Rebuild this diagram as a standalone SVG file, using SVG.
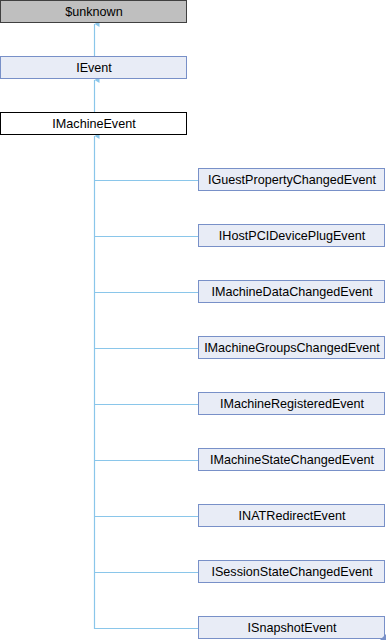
<svg xmlns="http://www.w3.org/2000/svg" width="386" height="640" viewBox="0 0 386 640">
<style>
.t{font-family:"Liberation Sans",Arial,sans-serif;font-size:12.6px;fill:#000;text-anchor:middle}
.b{fill:#e8ecf6;stroke:#7890c8;stroke-width:1}
.c{stroke:#8ac6ea;stroke-width:1.2;fill:none}
</style>
<defs>
<marker id="ah" markerWidth="7" markerHeight="6" refX="3.5" refY="0.5" orient="auto-start-reverse" markerUnits="userSpaceOnUse" viewBox="0 0 7 6">
<path d="M0.5,5.5 L3.5,0.5 L6.5,5.5 Z" fill="#8ac6ea"/>
</marker>
</defs>
<g id="connectors">
<path class="c" d="M94.5,57 V24" marker-end="url(#ah)"/>
<path class="c" d="M94.5,113 V80" marker-end="url(#ah)"/>
<path class="c" d="M198,628.5 H94.5 V136" marker-end="url(#ah)"/>
<path class="c" d="M94.5,180.5 H198"/>
<path class="c" d="M94.5,236.5 H198"/>
<path class="c" d="M94.5,292.5 H198"/>
<path class="c" d="M94.5,348.5 H198"/>
<path class="c" d="M94.5,404.5 H198"/>
<path class="c" d="M94.5,460.5 H198"/>
<path class="c" d="M94.5,516.5 H198"/>
<path class="c" d="M94.5,572.5 H198"/>
</g>
<g id="n_unknown"><rect x="0.5" y="0.5" width="186" height="22" fill="#bfbfbf" stroke="#404040"/><text class="t" x="94" y="16">$unknown</text></g>
<g id="n_IEvent"><rect class="b" x="0.5" y="56.5" width="186" height="22"/><text class="t" x="94" y="72">IEvent</text></g>
<g id="n_IMachineEvent"><rect x="0.5" y="112.5" width="186" height="22" fill="#fff" stroke="#000"/><text class="t" x="94" y="128">IMachineEvent</text></g>
<g id="n1"><rect class="b" x="198.5" y="168.5" width="186" height="22"/><text class="t" x="292" y="184">IGuestPropertyChangedEvent</text></g>
<g id="n2"><rect class="b" x="198.5" y="224.5" width="186" height="22"/><text class="t" x="292" y="240">IHostPCIDevicePlugEvent</text></g>
<g id="n3"><rect class="b" x="198.5" y="280.5" width="186" height="22"/><text class="t" x="292" y="296">IMachineDataChangedEvent</text></g>
<g id="n4"><rect class="b" x="198.5" y="336.5" width="186" height="22"/><text class="t" x="292" y="352">IMachineGroupsChangedEvent</text></g>
<g id="n5"><rect class="b" x="198.5" y="392.5" width="186" height="22"/><text class="t" x="292" y="408">IMachineRegisteredEvent</text></g>
<g id="n6"><rect class="b" x="198.5" y="448.5" width="186" height="22"/><text class="t" x="292" y="464">IMachineStateChangedEvent</text></g>
<g id="n7"><rect class="b" x="198.5" y="504.5" width="186" height="22"/><text class="t" x="292" y="520">INATRedirectEvent</text></g>
<g id="n8"><rect class="b" x="198.5" y="560.5" width="186" height="22"/><text class="t" x="292" y="576">ISessionStateChangedEvent</text></g>
<g id="n9"><rect class="b" x="198.5" y="616.5" width="186" height="22"/><text class="t" x="292" y="632">ISnapshotEvent</text><path d="M386,634 L386,640 L380,640 Z" fill="#7890c8"/></g>
</svg>
